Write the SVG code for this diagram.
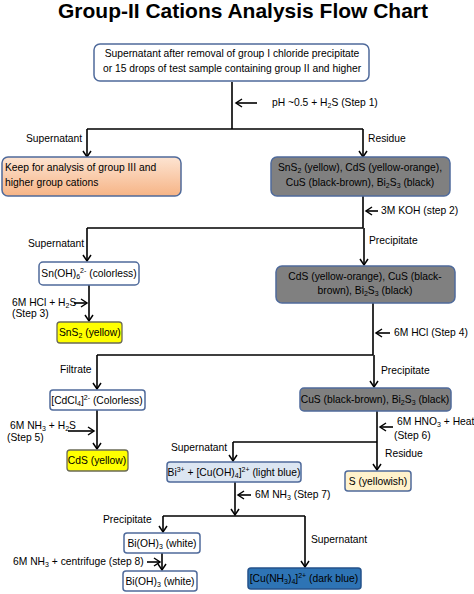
<svg xmlns="http://www.w3.org/2000/svg" width="474" height="594" viewBox="0 0 474 594">
<style>
text{font-family:"Liberation Sans",Arial,sans-serif;font-size:10.3px;fill:#000}
.title{font-size:21px;font-weight:bold}
.b{stroke:#4f6a9b;stroke-width:1.5}
.w{fill:#fff}
.g{fill:#808080}
.y{fill:#ffff00;stroke:#6b6b55}
.c{text-anchor:middle}
.sb{font-size:7px;baseline-shift:-2px}
.sp{font-size:7px;baseline-shift:4px}
.ln{fill:none;stroke:#000;stroke-width:1.6}
.ar{fill:none;stroke:#000;stroke-width:1.6;marker-end:url(#ah)}
</style>
<defs>
<marker id="ah" markerWidth="10" markerHeight="10" refX="7" refY="5" orient="auto" markerUnits="userSpaceOnUse">
<path d="M1,1 L7,5 L1,9" fill="none" stroke="#000" stroke-width="1.5"/>
</marker>
<linearGradient id="peach" x1="0" y1="0" x2="0" y2="1">
<stop offset="0" stop-color="#fde4d2"/>
<stop offset="1" stop-color="#f6b486"/>
</linearGradient>
</defs>
<rect width="474" height="594" fill="#fff"/>
<text class="title c" x="243" y="18" textLength="370" lengthAdjust="spacingAndGlyphs">Group-II Cations Analysis Flow Chart</text>

<g id="connectors">
<path class="ln" d="M232,82 V129 M87,129 H363"/>
<path class="ar" d="M87,129 V157"/>
<path class="ar" d="M363,129 V157"/>
<path class="ar" d="M257,103 H236"/>
<path class="ln" d="M363,196 V228 M87,228 H363"/>
<path class="ar" d="M378,211 H366"/>
<path class="ar" d="M87,228 V261"/>
<path class="ar" d="M364,228 V265"/>
<path class="ar" d="M89,285 V321"/>
<path class="ar" d="M74,303 H87"/>
<path class="ln" d="M373,303 V355 M97,355 H373"/>
<path class="ar" d="M390,333 H376"/>
<path class="ar" d="M97,355 V389"/>
<path class="ar" d="M374,355 V387"/>
<path class="ar" d="M97,410 V449"/>
<path class="ar" d="M68,431 H94"/>
<path class="ar" d="M377,411 V470"/>
<path class="ar" d="M393,427 H380"/>
<path class="ln" d="M233,442 H377"/>
<path class="ar" d="M233,442 V461"/>
<path class="ar" d="M235,482 V515"/>
<path class="ar" d="M251,495 H238"/>
<path class="ln" d="M163,516 H305"/>
<path class="ar" d="M163,516 V532"/>
<path class="ar" d="M305,516 V567"/>
<path class="ar" d="M162,553 V570"/>
<path class="ar" d="M147,562 H160"/>
</g>

<g id="labels">
<text x="272" y="106">pH ~0.5 + H<tspan class="sb">2</tspan>S (Step 1)</text>
<text x="26" y="142">Supernatant</text>
<text x="368" y="142">Residue</text>
<text x="381" y="214">3M KOH (step 2)</text>
<text x="28" y="247">Supernatant</text>
<text x="369" y="244">Precipitate</text>
<text x="12" y="306">6M HCl + H<tspan class="sb">2</tspan>S</text>
<text x="12" y="317">(Step 3)</text>
<text x="394" y="336">6M HCl (Step 4)</text>
<text x="60" y="373">Filtrate</text>
<text x="381" y="374">Precipitate</text>
<text x="10" y="429">6M NH<tspan class="sb">3</tspan> + H<tspan class="sb">2</tspan>S</text>
<text x="7" y="441">(Step 5)</text>
<text x="397" y="425">6M HNO<tspan class="sb">3</tspan> + Heat</text>
<text x="394" y="439">(Step 6)</text>
<text x="171" y="451">Supernatant</text>
<text x="385" y="457">Residue</text>
<text x="255" y="498">6M NH<tspan class="sb">3</tspan> (Step 7)</text>
<text x="103" y="523">Precipitate</text>
<text x="311" y="543">Supernatant</text>
<text x="13" y="565">6M NH<tspan class="sb">3</tspan> + centrifuge (step 8)</text>
</g>

<g id="n1">
<rect class="b w" x="94" y="44" width="275" height="37" rx="6"/>
<text class="c" x="232" y="57">Supernatant after removal of group I chloride precipitate</text>
<text class="c" x="232" y="72">or 15 drops of test sample containing group II and higher</text>
</g>
<g id="n2">
<rect class="b" fill="url(#peach)" x="2" y="157" width="179" height="39" rx="6"/>
<text x="5" y="171">Keep for analysis of group III and</text>
<text x="5" y="186">higher group cations</text>
</g>
<g id="n3">
<rect class="b g" x="271" y="157" width="179" height="39" rx="6"/>
<text class="c" x="360" y="171">SnS<tspan class="sb">2</tspan> (yellow), CdS (yellow-orange),</text>
<text class="c" x="360" y="186">CuS (black-brown), Bi<tspan class="sb">2</tspan>S<tspan class="sb">3</tspan> (black)</text>
</g>
<g id="n4">
<rect class="b w" x="39" y="262" width="100" height="23" rx="4"/>
<text class="c" x="89" y="277">Sn(OH)<tspan class="sb">6</tspan><tspan class="sp">2-</tspan> (colorless)</text>
</g>
<g id="n5">
<rect class="b g" x="276" y="266" width="179" height="37" rx="6"/>
<text class="c" x="365" y="280">CdS (yellow-orange), CuS (black-</text>
<text class="c" x="365" y="294">brown), Bi<tspan class="sb">2</tspan>S<tspan class="sb">3</tspan> (black)</text>
</g>
<g id="n6">
<rect class="y" stroke-width="1.3" x="57" y="322" width="65" height="21" rx="3"/>
<text x="59" y="336">SnS<tspan class="sb">2</tspan> (yellow)</text>
</g>
<g id="n7">
<rect class="b w" x="50" y="390" width="95" height="20" rx="3"/>
<text class="c" x="97" y="404">[CdCl<tspan class="sb">4</tspan>]<tspan class="sp">2-</tspan> (Colorless)</text>
</g>
<g id="n8">
<rect class="b g" x="300" y="388" width="151" height="23" rx="4"/>
<text class="c" x="375" y="403">CuS (black-brown), Bi<tspan class="sb">2</tspan>S<tspan class="sb">3</tspan> (black)</text>
</g>
<g id="n9">
<rect class="y" stroke-width="1.3" x="67" y="450" width="61" height="21" rx="3"/>
<text class="c" x="97" y="464">CdS (yellow)</text>
</g>
<g id="n10">
<rect class="b" fill="#dce6f2" x="167" y="462" width="134" height="20" rx="3"/>
<text class="c" x="234" y="476">Bi<tspan class="sp">3+</tspan> + [Cu(OH)<tspan class="sb">4</tspan>]<tspan class="sp">2+</tspan> (light blue)</text>
</g>
<g id="n11">
<rect class="b" fill="#fff2cc" x="345" y="471" width="66" height="20" rx="3"/>
<text class="c" x="378" y="485">S (yellowish)</text>
</g>
<g id="n12">
<rect class="b w" x="124" y="533" width="76" height="20" rx="3"/>
<text class="c" x="162" y="547">Bi(OH)<tspan class="sb">3</tspan> (white)</text>
</g>
<g id="n13">
<rect class="b w" x="123" y="571" width="74" height="20" rx="3"/>
<text class="c" x="160" y="585">Bi(OH)<tspan class="sb">3</tspan> (white)</text>
</g>
<g id="n14">
<rect fill="#2e74b5" stroke="#24528a" stroke-width="1.5" x="248" y="568" width="113" height="21" rx="3"/>
<text class="c" x="304" y="582">[Cu(NH<tspan class="sb">3</tspan>)<tspan class="sb">4</tspan>]<tspan class="sp">2+</tspan> (dark blue)</text>
</g>
</svg>
